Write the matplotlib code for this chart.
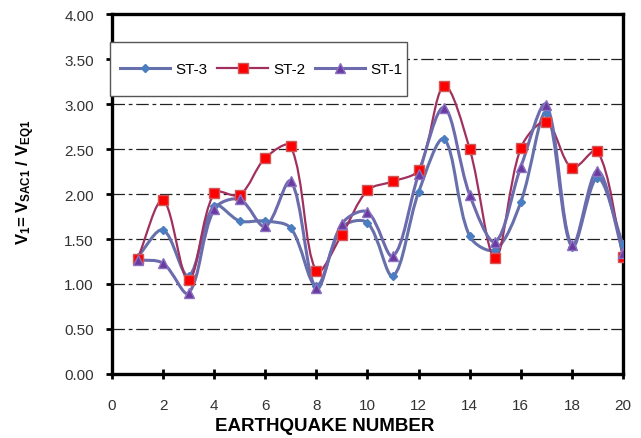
import numpy as np
import matplotlib
matplotlib.use('Agg')
import matplotlib.pyplot as plt
from matplotlib.path import Path
from matplotlib.patches import PathPatch, Rectangle
from matplotlib.lines import Line2D

plt.rcParams['font.family'] = ['Liberation Sans', 'DejaVu Sans']
plt.rcParams['mathtext.fontset'] = 'custom'
plt.rcParams['mathtext.rm'] = 'Liberation Sans'
plt.rcParams['mathtext.bf'] = 'Liberation Sans:bold'

# earthquake number
quake = [1, 2, 3, 4, 5, 6, 7, 8, 9, 10, 11, 12, 13, 14, 15, 16, 17, 18, 19, 20]

st3 = [1.30, 1.60, 1.09, 1.87, 1.70, 1.70, 1.62, 0.98, 1.63, 1.68,
       1.09, 2.02, 2.61, 1.53, 1.38, 1.91, 2.90, 1.41, 2.18, 1.44]
st2 = [1.28, 1.93, 1.04, 2.01, 1.99, 2.40, 2.53, 1.14, 1.55, 2.04,
       2.14, 2.27, 3.20, 2.50, 1.29, 2.51, 2.80, 2.29, 2.48, 1.30]
st1 = [1.27, 1.23, 0.90, 1.83, 1.94, 1.64, 2.14, 0.95, 1.67, 1.80,
       1.31, 2.22, 2.96, 1.99, 1.47, 2.30, 2.99, 1.43, 2.26, 1.35]

xticks = list(range(0, 21, 2))
yticks = [0.0, 0.5, 1.0, 1.5, 2.0, 2.5, 3.0, 3.5, 4.0]


def smooth_path(ax, x, y):
    # Excel-like smoothed line: bezier segments, control arms scaled by
    # the on-screen chord lengths so steep drops don't overshoot much
    p = np.column_stack([x, y]).astype(float)
    d = ax.transData.transform(p)
    n = len(p)
    seg = np.hypot(*np.diff(d, axis=0).T)
    verts = [p[0]]
    codes = [Path.MOVETO]
    for i in range(n - 1):
        if i > 0:
            w = seg[i] / (seg[i - 1] + seg[i])
            c1 = p[i] + (p[i + 1] - p[i - 1]) * w / 3.0
        else:
            c1 = p[i] + (p[i + 1] - p[i]) / 3.0
        if i + 2 < n:
            w = seg[i] / (seg[i] + seg[i + 1])
            c2 = p[i + 1] - (p[i + 2] - p[i]) * w / 3.0
        else:
            c2 = p[i + 1] - (p[i + 1] - p[i]) / 3.0
        verts += [c1, c2, p[i + 1]]
        codes += [Path.CURVE4] * 3
    return Path(verts, codes)


fig = plt.figure(figsize=(6.41, 4.39), dpi=100)
ax = fig.add_axes([0.1747, 0.1458, 0.7972, 0.82])
ax.set_xlim(0, 20)
ax.set_ylim(0, 4)

series = [
    ('ST-3', st3, '#6670AA', 'D', '#4A7EC0', '#4A7EC0', 4.5, 2.2),
    ('ST-2', st2, '#A0305E', 's', '#FF0000', '#D05858', 7, 1.6),
    ('ST-1', st1, '#6B6BAE', '^', '#6A3AA0', '#8A70C0', 6.5, 2.2),
]

handles = []
for name, vals, lc, mk, mfc, mec, ms, lw in series:
    ax.add_patch(PathPatch(smooth_path(ax, quake, vals), facecolor='none',
                           edgecolor=lc, lw=lw, zorder=3))
    ax.plot(quake, vals, ls='none', marker=mk, ms=ms, mfc=mfc, mec=mec,
            mew=1.0, zorder=4)
    handles.append(Line2D([], [], color=lc, lw=lw, marker=mk, ms=ms,
                          mfc=mfc, mec=mec, mew=1.0, label=name))

ax.set_xticks(xticks)
ax.set_yticks(yticks)
ax.set_yticklabels([f'{v:.2f}' for v in yticks])

for v in yticks[1:-1]:
    ax.axhline(v, color='#222222', lw=0.9, dashes=(10, 3, 3, 3), zorder=1)

for s in ax.spines.values():
    s.set_linewidth(2.4)
    s.set_color('black')

ax.tick_params(axis='x', direction='inout', length=7, width=2, pad=14,
               labelsize=11, labelcolor='#333333')
ax.tick_params(axis='y', direction='out', length=4, width=2, pad=9,
               labelsize=11, labelcolor='#333333')

ax.set_xlabel('EARTHQUAKE NUMBER', fontsize=13.5, fontweight='bold', va='center')
ax.xaxis.set_label_coords(0.417, -0.144)
ax.set_ylabel(r'$\mathbf{V_1}$= $\mathbf{V_{SAC1}}$ / $\mathbf{V_{EQ1}}$',
              fontsize=12, fontweight='bold', va='center')
ax.yaxis.set_label_coords(-0.168, 0.536)

# legend box sits over the left spine, like the original
box = Rectangle((-0.003, 0.772), 0.58, 0.15, transform=ax.transAxes,
                facecolor='white', edgecolor='#555555', lw=1.0,
                clip_on=False, zorder=5)
ax.add_patch(box)
leg = ax.legend(handles=handles, loc='center', bbox_to_anchor=(0.292, 0.847),
                ncol=3, frameon=False, fontsize=11,
                handlelength=3.3, handletextpad=0.33, columnspacing=0.65,
                borderaxespad=0, borderpad=0)
leg.set_zorder(6)

fig.savefig('out.png', dpi=100)
